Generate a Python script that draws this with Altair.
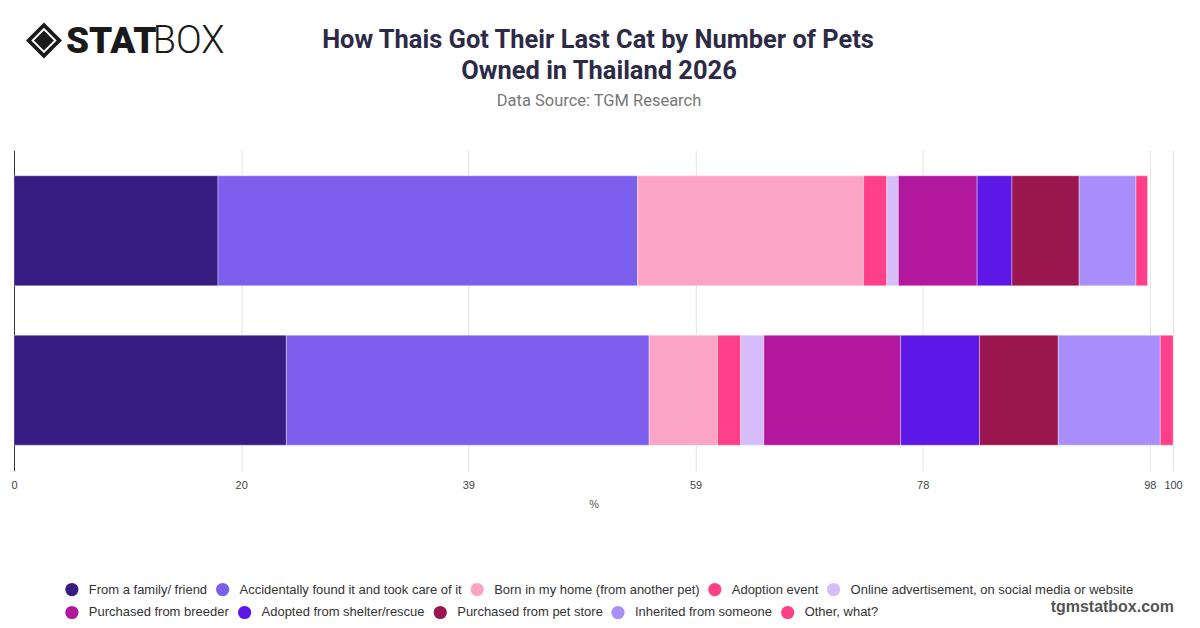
import altair as alt
import pandas as pd

# ---------------- data ----------------
groups = ["One pet", "Two or more pets"]
sources = [
    "From a family/ friend",
    "Accidentally found it and took care of it",
    "Born in my home (from another pet)",
    "Adoption event",
    "Online advertisement, on social media or website",
    "Purchased from breeder",
    "Adopted from shelter/rescue",
    "Purchased from pet store",
    "Inherited from someone",
    "Other, what?",
]
colors = ["#371c82", "#7c5fed", "#fca4c4", "#ff3f87", "#d6bdfa",
          "#b2189e", "#5d17e6", "#9b154e", "#a98efb", "#ff3f87"]
values_one_pet = [17.6, 36.2, 19.5, 2.0, 1.0, 6.8, 3.0, 5.8, 4.9, 1.0]
values_multi_pet = [23.5, 31.3, 5.9, 2.0, 2.0, 11.8, 6.8, 6.8, 8.8, 1.1]
tick_values = [0, 19.6, 39.2, 58.8, 78.4, 98, 100]

title_lines = ["How Thais Got Their Last Cat by Number of Pets", "Owned in Thailand 2026"]
subtitle = "Data Source: TGM Research"

rows = []
for g, vals in zip(groups, [values_one_pet, values_multi_pet]):
    for i, (s, v) in enumerate(zip(sources, vals)):
        rows.append({"group": g, "source": s, "value": v, "idx": i})
df = pd.DataFrame(rows)

W, H = 1161, 321
FONT = "Liberation Sans"

base = alt.Chart(df).transform_window(
    cum="sum(value)",
    sort=[alt.SortField("idx", order="ascending")],
    groupby=["group"],
    frame=[None, 0],
).transform_calculate(start="datum.cum - datum.value")

x_enc = alt.X(
    "start:Q",
    scale=alt.Scale(domain=[0, 100], nice=False),
    axis=alt.Axis(
        values=tick_values, format=".0f", title="%",
        grid=True, gridColor="#e3e3e3", gridWidth=1,
        domain=False, ticks=False, labelPadding=9,
        labelFont=FONT, labelFontSize=11, labelColor="#444444",
        titleFont=FONT, titleFontSize=11, titleColor="#555555",
        titleFontWeight="normal", titlePadding=8,
        labelFlush=False, labelOverlap=False,
    ),
)
y_enc = alt.Y(
    "group:N", sort=groups,
    scale=alt.Scale(paddingInner=0.31, paddingOuter=0.16),
    axis=alt.Axis(title=None, labels=False, ticks=False, grid=False,
                  domain=True, domainColor="#333333", domainWidth=1),
)


def legend_at(y):
    return alt.Legend(
        title=None, orient="none", legendX=51, legendY=y,
        direction="horizontal", columns=5,
        symbolType="circle", symbolSize=175, symbolStrokeWidth=0,
        symbolOpacity=1, labelFont=FONT, labelFontSize=13,
        labelColor="#333333", labelOffset=10, columnPadding=8,
        labelLimit=500,
    )


bar_style = dict(stroke="white", strokeWidth=0.6, strokeOpacity=0.6)

bars_a = base.transform_filter("datum.idx < 5").mark_bar(**bar_style).encode(
    x=x_enc, x2="cum:Q", y=y_enc,
    color=alt.Color("source:N", scale=alt.Scale(domain=sources[:5], range=colors[:5]),
                    legend=legend_at(433)),
)
bars_b = base.transform_filter("datum.idx >= 5").mark_bar(**bar_style).encode(
    x=x_enc, x2="cum:Q", y=y_enc,
    color=alt.Color("source:N", scale=alt.Scale(domain=sources[5:], range=colors[5:]),
                    legend=legend_at(456)),
)

one = pd.DataFrame({"k": [0]})

title1 = alt.Chart(one).mark_text(text=title_lines[0], font="Roboto", fontSize=25.5, fontWeight="bold",
                                  color="#2d2a47", align="center", baseline="middle").encode(
    x=alt.value(585), y=alt.value(-110))
title2 = alt.Chart(one).mark_text(text=title_lines[1], font="Roboto", fontSize=25.5, fontWeight="bold",
                                  color="#2d2a47", align="center", baseline="middle").encode(
    x=alt.value(586), y=alt.value(-79))
sub = alt.Chart(one).mark_text(text=subtitle, font="Roboto", fontSize=16.5,
                               color="#777777", align="center", baseline="middle").encode(
    x=alt.value(586), y=alt.value(-49))

logo_outer = alt.Chart(one).mark_point(shape="diamond", filled=True, color="#1a1a1a", size=1296, opacity=1).encode(
    x=alt.value(30), y=alt.value(-110))
logo_mid = alt.Chart(one).mark_point(shape="diamond", filled=True, color="#ffffff", size=650, opacity=1).encode(
    x=alt.value(30), y=alt.value(-110))
logo_inner = alt.Chart(one).mark_point(shape="diamond", filled=True, color="#1a1a1a", size=400, opacity=1).encode(
    x=alt.value(30), y=alt.value(-110))
logo_stat = alt.Chart(one).mark_text(text="STAT", font="Roboto", fontSize=37, fontWeight=900,
                                     color="#1a1a1a", align="left", baseline="alphabetic").encode(
    x=alt.value(52), y=alt.value(-97))
logo_box = alt.Chart(one).mark_text(text="BOX", font="Roboto", fontSize=38, fontWeight=300,
                                    color="#1a1a1a", align="left", baseline="alphabetic").encode(
    x=alt.value(139), y=alt.value(-97))
footer = alt.Chart(one).mark_text(text="tgmstatbox.com", font=FONT, fontSize=16, fontWeight="bold",
                                  color="#555555", align="right", baseline="alphabetic").encode(
    x=alt.value(1162), y=alt.value(462))

chart = alt.layer(
    bars_a, bars_b, title1, title2, sub,
    logo_outer, logo_mid, logo_inner, logo_stat, logo_box, footer,
).resolve_scale(color="independent").properties(
    width=W, height=H,
    autosize=alt.AutoSizeParams(type="none"),
    padding={"left": 6, "top": 142, "right": 19, "bottom": 155},
).configure_view(stroke=None)

chart.save("out.html", embed_options={"renderer": "svg", "actions": False})
